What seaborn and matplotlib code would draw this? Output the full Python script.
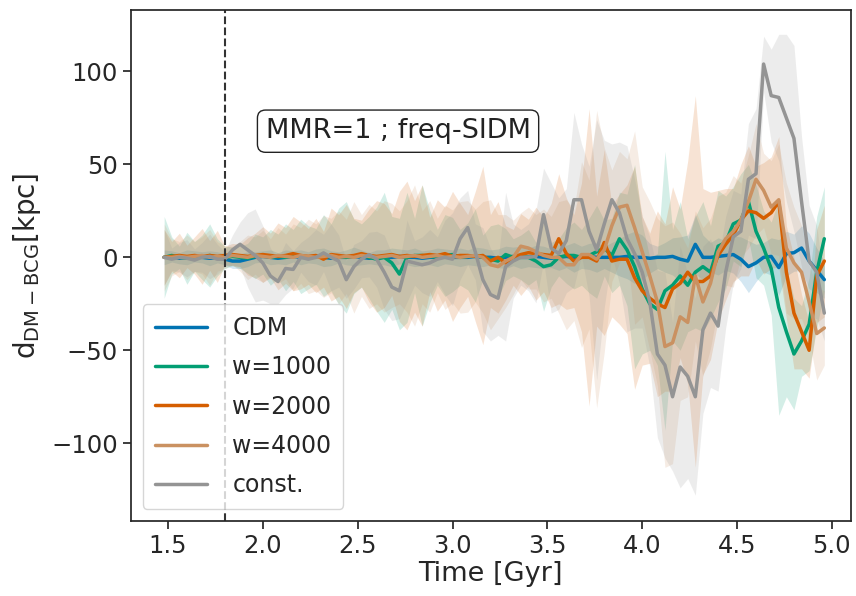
import numpy as np
import matplotlib
matplotlib.use('Agg')

import matplotlib.pyplot as plt
import seaborn as sns
import pandas as pd

# Zeitachse (Gyr), Schnappschuesse alle 0.04 Gyr
time = np.round(1.48 + 0.04 * np.arange(88), 2)

# Mittelwerte d_DM-BCG [kpc]
cdm = [0, 0.5, -0.5, 0, 0.5, 0, -0.5, 0, -1, -2,
       -2, -1, 0, 0.5, 0, -0.5, 0, 0.5, 0, 0,
       0.5, 0, -0.5, 0, 0, 0.5, 0, -0.5, 0, 0,
       0, 0.5, 0, 0, -0.5, 0, 0, 0.5, 0, 0,
       0, 0.5, 0, 0, -0.5, 0, 0.5, 0, 0, 0.5,
       0, -0.5, 0, 0.5, 0, 0, 0.5, 0, 0, 0,
       0, 0.5, 0, 0, -0.5, 0, 0, 0.5, -1, -2,
       7, 0, 0, 0.5, 1, 1.5, -1, -5, -3, 0,
       0.5, -5.5, 2, 2.5, 5, -2, -7, -12]
w1000 = [0, 1, 0, -0.5, 0.5, 0, 1, 0, 0, 0.5,
         0, -0.5, 0.5, 1, 0, 0.5, 0, 1, 0.5, 0,
         0.5, 1, 0, 0.5, 0, 0.5, 1, 0, -1, 0,
         -3, -9, 0, 1, 1, 0.5, 0, 1, 1.5, 0,
         0.5, 1, 0, -1, -2, 1.5, 0, 0, 0, -2,
         -5, -4, 0, 1, 1, 0, 1, 3, 5, 1,
         10, 4, -5, -17, -25, -28, -18, -15, -10, -15,
         -8, -5, -8, 6, 8, 18, 20, 30, 14, 5,
         -6, -27, -40, -52, -45, -36, -8, 10]
w2000 = [0, 0.5, 1, 0.5, 1, 0.5, 1, 0.5, 1, 1.5,
         1, 0.5, 1, 1.5, 1, 0.5, 1, 2, 1, 0.5,
         1, -1, 1.5, 1, 0.5, 1, 2, 1, 0.5, 1,
         1.5, 0.5, 1, 0.5, 1, 1.5, 1, 2, 0.5, 1,
         1, 0.5, 1, -2, 0, -3, 0, 1.5, 2.5, 2,
         1.5, 1, 10, 2, -2, 0, 0, -2, 8, -2,
         -1, -1, -11, -18, -22, -25, -27, -17, -14, -8,
         -13, -13, -10, 1, 7, 12, 20, 25, 24, 21,
         24, 30, -8, -30, -40, -50, -10, -2]
w4000 = [0, 0, 0.5, 0, 0.5, 1, 0, 0.5, 0, 1,
         0.5, 0, 1, 0.5, 0, 1, 0.5, 0, 1, 0.5,
         0, 0.5, 1, 0, 0.5, 0, 1, 0.5, 0, 0.5,
         1, 0, 0.5, 1, 0, 0.5, 1, 0, 0.5, 0,
         0.5, 1, 0, -4, -5, -2, 0, 6, 5, 3,
         1, 0, 0, -4, -4, 1.5, 1.5, -1, 4, 17,
         27, 28, 16, 3, -10, -24, -48, -46, -32, -35,
         -10, -24, -14, 3, 10, 14, 20, 30, 42, 36,
         27, 31, 5, -3, -8, -24, -41, -38]
const = [0, -1, 0, -0.5, -1.5, 0, 0.5, -1, -1, 4,
         7, 4, 1, -3, -10, -13, -6, -6.5, 0, -1,
         0, 2.4, 0, -2, -12, -5, -1, 1.5, -1, -8,
         -16, -18, -2, -3, -4, -3, -1, 0, -1, 10,
         16, 3, -12, -20, -22, -5, -2, 0, 0, 0.5,
         23, 5, 2, 9, 31, 31, 14, 4, 18, 31,
         24, 10, 2, -8, -24, -52, -58, -75, -59, -64,
         -75, -39, -30, -37, -8, 11, 14, 42, 45, 104,
         87, 86, 75, 64, 30, -2, -8, -30]

# Streuung (halbe Bandbreite) [kpc]
cdm_err = [4, 3, 3, 4, 3, 3, 4, 3, 3, 4,
           4, 4, 3, 3, 4, 3, 4, 3, 4, 3,
           4, 5, 4, 3, 4, 5, 4, 3, 4, 4,
           5, 4, 4, 5, 4, 4, 5, 4, 4, 5,
           4, 5, 5, 4, 5, 6, 5, 6, 5, 6,
           6, 5, 7, 6, 8, 6, 7, 8, 6, 8,
           10, 12, 14, 12, 8, 6, 8, 10, 12, 14,
           16, 12, 8, 10, 8, 10, 12, 14, 10, 8,
           10, 15, 12, 10, 12, 15, 12, 10]
w1000_err = [22, 10, 6, 14, 8, 12, 17, 10, 6, 5,
             6, 8, 12, 10, 15, 12, 18, 14, 20, 17,
             15, 22, 18, 26, 30, 20, 17, 22, 28, 35,
             25, 30, 35, 20, 38, 25, 15, 22, 20, 15,
             18, 25, 12, 18, 20, 14, 10, 12, 15, 10,
             24, 12, 10, 15, 18, 15, 20, 25, 15, 20,
             25, 30, 55, 35, 25, 30, 75, 30, 40, 25,
             30, 35, 25, 30, 25, 20, 25, 20, 25, 20,
             25, 58, 35, 30, 19, 25, 30, 28]
w2000_err = [15, 8, 12, 6, 10, 15, 8, 14, 5, 6,
             6, 10, 12, 15, 12, 18, 15, 20, 18, 15,
             20, 15, 25, 22, 28, 20, 18, 25, 30, 28,
             22, 35, 40, 30, 38, 20, 30, 25, 35, 28,
             22, 35, 48, 25, 30, 20, 15, 22, 18, 25,
             20, 28, 35, 30, 25, 40, 80, 35, 50, 30,
             35, 40, 60, 40, 35, 50, 45, 55, 40, 60,
             100, 50, 45, 35, 30, 25, 30, 35, 25, 30,
             30, 35, 25, 30, 20, 15, 25, 30]
w4000_err = [18, 10, 8, 12, 8, 10, 15, 8, 6, 5,
             8, 12, 10, 14, 10, 15, 12, 18, 15, 20,
             18, 22, 20, 25, 20, 30, 22, 28, 25, 30,
             28, 25, 30, 38, 25, 30, 20, 28, 25, 30,
             30, 25, 30, 35, 28, 25, 20, 18, 22, 20,
             25, 22, 30, 35, 30, 50, 40, 80, 55, 30,
             30, 25, 52, 35, 40, 45, 65, 65, 45, 40,
             35, 40, 35, 30, 25, 30, 20, 25, 30, 20,
             25, 30, 35, 30, 25, 20, 25, 20]
const_err = [15, 6, 8, 10, 6, 8, 12, 8, 4, 8,
             12, 20, 25, 20, 15, 12, 14, 10, 8, 12,
             15, 10, 18, 14, 10, 12, 10, 12, 15, 20,
             18, 15, 22, 12, 15, 18, 12, 20, 25, 22,
             20, 15, 28, 25, 20, 40, 20, 15, 18, 25,
             25, 35, 30, 28, 47, 30, 35, 70, 45, 30,
             38, 50, 40, 30, 35, 45, 50, 40, 65, 55,
             53, 45, 40, 35, 30, 25, 20, 30, 35, 15,
             25, 34, 45, 50, 35, 30, 25, 15]

labels = ["CDM", "w=1000", "w=2000", "w=4000", "const."]
means = [cdm, w1000, w2000, w4000, const]
errs = [cdm_err, w1000_err, w2000_err, w4000_err, const_err]
colors = ["#0173b2", "#029e73", "#d55e00", "#ca9161", "#949494"]

t_merger = 1.80

# Daten in Langform fuer seaborn
df = pd.concat([pd.DataFrame({"time": time, "d": m, "model": lab})
                for m, lab in zip(means, labels)], ignore_index=True)

sns.set_theme(style="ticks")
plt.rcParams['font.family'] = ['DejaVu Sans']

fig = plt.figure(figsize=(8.56, 5.96), dpi=100)
ax = fig.add_axes([0.153, 0.126, 0.841, 0.857])

# Streubaender
for m, e, c in zip(means, errs, colors):
    m = np.array(m, dtype=float)
    e = np.array(e, dtype=float)
    ax.fill_between(time, m - e, m + e, color=c, alpha=0.17, lw=0)

sns.lineplot(data=df, x="time", y="d", hue="model", hue_order=labels,
             palette=colors, lw=2.5, ax=ax)

ax.axvline(t_merger, color="#333333", ls="--", lw=1.5)

ax.text(0.371, 0.763, "MMR=1 ; freq-SIDM", transform=ax.transAxes,
        ha="center", va="center", fontsize=19.5, color="#222222",
        bbox=dict(boxstyle="round,pad=0.3", fc="white", ec="#222222", lw=1))

ax.set_xlim(1.305, 5.10)
ax.set_ylim(-141.8, 133)
ax.set_yticks([-100, -50, 0, 50, 100])
ax.set_xlabel("Time [Gyr]", fontsize=19.5, labelpad=2)
ax.set_ylabel(r"d$_{\rm DM-BCG}$[kpc]", fontsize=20, labelpad=6)
ax.tick_params(labelsize=17.5)

leg = ax.legend(loc="lower left", fontsize=17, handlelength=2.2,
                handletextpad=1.1, labelspacing=0.65, borderpad=0.5)
for line in leg.get_lines():
    line.set_linewidth(2.5)

fig.savefig("out.png", dpi=100)
